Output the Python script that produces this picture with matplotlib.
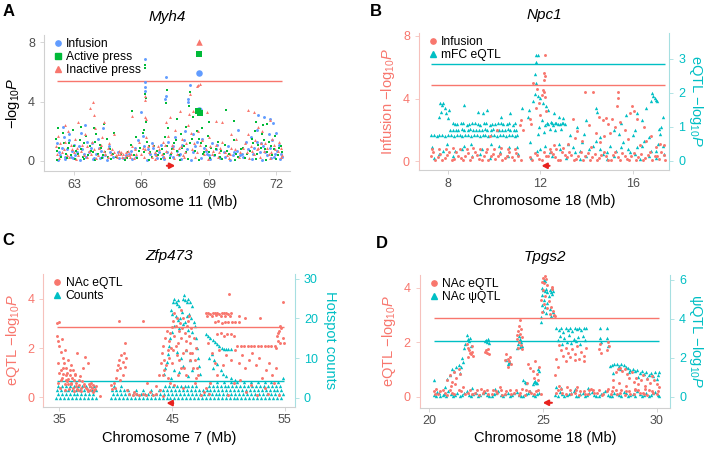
import numpy as np
import matplotlib
matplotlib.use("Agg")
import matplotlib.pyplot as plt
from matplotlib.lines import Line2D

plt.rcParams['font.family'] = ['Liberation Sans', 'DejaVu Sans']
plt.rcParams['mathtext.fontset'] = 'custom'
plt.rcParams['mathtext.rm'] = 'Liberation Sans'
plt.rcParams['mathtext.it'] = 'Liberation Sans:italic'

RED = '#F8766D'
GREEN = '#00BA38'
BLUE = '#619CFF'
CYAN = '#00BFC4'
GRAY_TXT = '#4d4d4d'
SPINE = '#d0d0d0'

# ---------------- panel A : Myh4, chr 11 ----------------
a_infusion = [(66.16,6.88),(66.17,5.36),(66.15,4.98),(66.14,4.72),(67.10,5.68),(67.08,4.38),(67.05,4.20),
    (68.18,5.12),(68.08,4.18),(68.05,3.95),(68.62,3.40),(71.20,3.10),(71.45,2.95),(71.70,2.85),(71.85,2.55),
    (66.00,3.30),(63.50,2.40),(62.50,2.30),(70.30,2.10),(62.80,1.80),(64.30,2.20),(72.00,1.90),
    (62.25,1.2),(62.40,0.4),(62.55,1.6),(62.70,0.8),(62.85,0.3),(63.00,1.1),(63.15,0.6),(63.30,1.9),(63.45,0.5),
    (63.60,1.3),(63.75,0.9),(63.90,0.2),(64.05,1.5),(64.20,0.7),(64.40,0.4),(64.55,1.0),(64.75,0.3),(64.95,0.6),
    (65.20,0.2),(65.45,0.5),(65.70,0.9),(65.85,1.4),(66.05,1.7),(66.30,0.8),(66.45,1.2),(66.60,0.5),(66.80,0.6),
    (66.95,0.3),(67.20,1.3),(67.35,0.9),(67.50,1.6),(67.65,0.4),(67.80,1.1),(67.95,2.0),(68.30,1.8),(68.40,1.0),
    (68.70,1.5),(68.85,0.7),(69.00,0.4),(69.15,1.2),(69.30,0.8),(69.45,0.3),(69.65,0.6),(69.85,1.0),(70.05,0.4),
    (70.25,0.7),(70.45,0.5),(70.65,1.3),(70.85,1.6),(71.00,0.9),(71.15,2.1),(71.30,1.2),(71.50,0.6),(71.65,1.8),
    (71.80,1.4),(71.95,0.5),(72.10,1.1),(72.25,0.3),
    (62.30,0.10),(62.60,0.15),(62.95,0.20),(63.25,0.10),(63.55,0.25),(63.85,0.12),(64.15,0.18),(64.45,0.10),
    (65.00,0.20),(65.60,0.15),(66.25,0.10),(66.70,0.22),(67.00,0.12),(67.40,0.30),(67.75,0.15),(68.20,0.10),
    (68.65,0.20),(69.05,0.12),(69.50,0.18),(69.95,0.10),(70.50,0.25),(70.90,0.15),(71.35,0.10),(71.75,0.20),
    (72.15,0.12),
    (62.32,0.6),(62.47,0.9),(62.62,0.3),(62.77,1.4),(62.92,0.7),(63.07,0.4),(63.22,1.0),(63.37,0.8),(63.52,0.3),
    (63.67,0.6),(63.82,1.2),(63.97,0.5),(64.12,0.9),(64.27,0.3),(64.62,0.6),(65.32,0.4),(65.52,0.7),(65.77,0.3),
    (66.12,1.0),(66.37,0.5),(66.52,0.9),(66.87,1.1),(67.12,0.6),(67.27,0.4),(67.42,1.0),(67.57,0.7),(67.72,0.5),
    (67.87,1.4),(68.02,0.8),(68.27,0.6),(68.47,1.3),(68.77,0.9),(68.92,0.5),(69.22,0.4),(69.37,1.1),(69.72,0.3),
    (70.12,0.6),(70.37,0.4),(70.72,0.8),(70.97,0.5),(71.12,1.3),(71.27,0.6),(71.42,1.0),(71.57,0.4),(71.72,0.9),
    (71.87,0.3),(72.02,0.7),(72.20,0.5)]
a_active = [(66.16,6.45),(66.16,6.28),(66.18,4.50),(66.20,4.25),(66.19,2.60),(67.12,4.80),(67.08,3.90),
    (68.14,4.65),(68.10,3.70),(69.75,3.45),(70.10,2.70),(71.10,2.60),(71.40,2.40),(65.60,3.35),(63.90,2.20),
    (64.35,2.50),(62.30,2.20),(63.30,2.30),(69.00,2.60),(67.60,2.80),(66.10,2.10),(68.30,3.00),(68.70,2.20),
    (71.60,2.50),(64.80,1.90),
    (62.20,1.5),(62.35,0.9),(62.50,1.9),(62.65,0.5),(62.80,1.2),(62.95,2.1),(63.10,0.7),(63.25,1.4),(63.40,0.3),
    (63.55,1.7),(63.70,1.0),(63.85,0.6),(64.00,1.8),(64.15,1.1),(64.30,0.4),(64.45,1.5),(64.60,0.8),(64.85,0.3),
    (65.10,0.5),(65.35,0.2),(65.55,1.1),(65.75,1.6),(65.90,0.7),(66.05,1.9),(66.25,1.3),(66.40,0.6),(66.55,1.0),
    (66.75,0.4),(66.90,0.8),(67.05,1.6),(67.20,2.2),(67.30,0.5),(67.45,1.2),(67.60,0.7),(67.75,1.8),(67.90,1.0),
    (68.00,2.3),(68.25,1.5),(68.45,2.0),(68.65,1.2),(68.80,0.6),(68.95,1.7),(69.10,0.9),(69.25,0.4),(69.40,1.3),
    (69.55,0.7),(69.70,1.1),(69.90,0.5),(70.10,1.4),(70.30,0.3),(70.50,0.9),(70.70,0.5),(70.90,1.5),(71.05,2.0),
    (71.20,1.1),(71.35,1.8),(71.50,0.8),(71.65,1.3),(71.80,0.4),(71.95,1.7),(72.10,0.9),(72.25,0.6),
    (62.25,0.10),(62.70,0.20),(63.05,0.12),(63.45,0.15),(63.95,0.10),(64.25,0.22),(64.65,0.12),(65.25,0.10),
    (65.80,0.18),(66.35,0.10),(66.85,0.15),(67.25,0.20),(67.70,0.10),(68.05,0.14),(68.55,0.10),(69.05,0.20),
    (69.60,0.12),(70.15,0.10),(70.60,0.18),(71.10,0.12),(71.55,0.10),(72.00,0.15),
    (62.27,0.7),(62.42,0.3),(62.57,1.2),(62.72,0.9),(62.87,0.4),(63.02,1.0),(63.17,0.5),(63.32,0.8),(63.47,1.2),
    (63.62,0.4),(63.77,0.7),(63.92,1.3),(64.07,0.5),(64.22,0.9),(64.37,0.6),(64.52,0.3),(64.72,0.5),(65.40,0.6),
    (65.65,0.4),(65.95,0.9),(66.12,0.6),(66.32,1.0),(66.47,0.3),(66.67,0.7),(67.00,0.5),(67.15,1.0),(67.37,0.8),
    (67.52,1.4),(67.67,0.4),(67.82,0.9),(67.97,0.6),(68.17,1.2),(68.37,0.7),(68.57,1.5),(68.72,0.5),(68.87,1.0),
    (69.02,0.6),(69.32,0.8),(69.47,0.3),(69.82,0.7),(70.22,0.5),(70.42,0.8),(70.82,0.7),(70.97,1.2),(71.15,0.5),
    (71.30,0.9),(71.45,1.4),(71.60,0.6),(71.75,1.0),(71.90,0.8),(72.05,0.4),(72.20,1.0)]
a_inactive = [(68.45,5.05),(68.50,5.10),(68.62,5.20),(63.86,3.96),(63.70,3.60),(63.90,3.10),(66.14,2.95),
    (66.20,2.85),(66.15,4.40),(66.18,4.10),(68.15,4.50),(68.12,3.20),(67.70,3.35),(68.90,3.30),(70.75,3.45),
    (71.00,3.30),(69.60,2.60),(71.70,2.75),(65.60,3.05),(64.35,2.60),(63.20,2.60),(62.60,2.40),(67.10,2.60),
    (69.30,2.70),(70.00,1.80),(64.80,1.85),(67.25,3.00),(68.30,3.40),(71.20,2.30),
    (62.20,1.0),(62.30,1.7),(62.45,0.6),(62.60,1.3),(62.75,2.0),(62.90,0.8),(63.05,1.5),(63.20,0.4),(63.35,1.1),
    (63.50,1.8),(63.65,0.7),(63.80,1.3),(63.95,2.2),(64.10,0.9),(64.25,1.6),(64.40,0.5),(64.55,1.2),(64.70,0.8),
    (64.85,0.4),(65.00,0.7),(65.15,0.3),(65.30,0.6),(65.45,0.4),(65.60,1.0),(65.75,0.5),(65.90,1.3),(66.05,0.9),
    (66.20,1.6),(66.35,0.6),(66.50,1.1),(66.65,0.4),(66.80,0.8),(66.95,1.3),(67.10,0.7),(67.20,1.7),(67.35,1.1),
    (67.50,2.1),(67.65,0.9),(67.80,1.5),(67.95,0.6),(68.05,2.4),(68.20,1.9),(68.35,1.2),(68.50,2.0),(68.70,1.4),
    (68.85,0.8),(69.00,1.6),(69.15,0.5),(69.30,1.1),(69.45,0.6),(69.60,1.3),(69.80,0.4),(70.00,0.9),(70.20,1.5),
    (70.40,0.6),(70.60,1.2),(70.75,1.8),(70.90,0.7),(71.05,1.4),(71.20,0.9),(71.35,2.0),(71.50,1.2),(71.65,0.5),
    (71.80,1.5),(71.95,0.8),(72.10,1.3),(72.25,0.4),
    (62.35,0.20),(62.80,0.30),(63.10,0.15),(63.60,0.25),(64.00,0.20),(64.50,0.30),(64.90,0.25),(65.05,0.45),
    (65.20,0.50),(65.35,0.40),(65.50,0.30),(65.65,0.20),(66.10,0.25),(66.60,0.15),(67.00,0.30),(67.45,0.20),
    (67.90,0.30),(68.40,0.25),(68.95,0.15),(69.40,0.30),(69.90,0.20),(70.35,0.30),(70.80,0.20),(71.25,0.30),
    (71.70,0.20),(72.20,0.25),
    (62.25,0.5),(62.40,1.2),(62.55,0.8),(62.70,0.4),(62.85,1.1),(63.00,0.6),(63.15,0.9),(63.30,0.7),(63.45,0.4),
    (63.60,1.0),(63.75,0.5),(63.90,0.8),(64.05,0.4),(64.20,1.1),(64.35,0.7),(64.50,0.9),(64.65,0.5),(64.80,0.6),
    (64.95,0.5),(65.10,0.6),(65.25,0.3),(65.40,0.7),(65.55,0.5),(65.70,0.8),(66.00,0.5),(66.15,0.8),(66.30,1.0),
    (66.45,0.3),(66.60,0.6),(66.75,1.0),(66.90,0.5),(67.05,1.1),(67.30,0.6),(67.40,0.9),(67.60,0.5),(67.75,1.0),
    (67.85,0.4),(68.00,1.2),(68.25,0.8),(68.45,0.6),(68.60,1.1),(68.80,0.5),(69.05,1.0),(69.20,0.7),(69.50,0.9),
    (69.70,0.6),(69.95,0.5),(70.15,0.8),(70.50,0.9),(70.70,0.6),(70.85,1.0),(71.00,0.5),(71.15,0.8),(71.30,1.2),
    (71.45,0.7),(71.60,0.9),(71.75,0.6),(71.90,1.1),(72.05,0.7),(72.22,0.9)]
a_infusion_lead = [(68.56,5.92),(68.55,3.45)]
a_active_lead = [(68.58,7.25),(68.50,3.35),(68.62,3.25)]
a_inactive_lead = [(68.58,8.00)]
a_threshold = 5.42
a_gene = (67.13, 67.50)

# ---------------- panel B : Npc1, chr 18 ----------------
b_infusion = [(12.18,6.75),(12.17,5.65),(12.18,5.45),(12.16,5.20),(11.68,5.00),(11.85,4.60),(12.10,4.55),
    (12.17,4.40),(12.05,4.25),(12.20,4.10),(11.95,3.70),(11.80,3.40),(12.00,2.95),(12.25,3.20),(11.55,2.70),
    (11.60,2.40),(13.93,4.40),(14.29,4.40),(15.35,4.40),(15.36,4.05),(15.34,3.50),(15.96,3.53),(15.90,3.05),
    (11.18,2.62),(11.10,2.30),(11.25,2.00),(10.10,2.00),(9.80,1.60),
    (14.55,2.80),(14.70,2.60),(14.85,2.75),(14.95,2.40),(15.10,2.70),(15.25,2.20),(15.45,2.50),(13.40,2.70),
    (13.60,1.90),(14.10,2.30),(14.40,1.80),(15.65,2.00),(16.05,3.20),(16.20,2.70),(16.50,2.20),(16.80,1.60),
    (17.20,1.10),(17.35,1.00),(14.75,1.60),(15.00,1.80),
    (7.30,0.80),(7.60,0.80),(7.90,0.78),(8.20,0.82),(8.50,0.80),(8.80,0.79),(9.10,0.81),(9.40,0.80),(9.70,0.80),
    (10.00,0.79),(10.30,0.81),(10.60,0.80),(10.90,0.80),(12.40,0.80),(12.70,0.78),(13.00,0.82),
    (7.25,0.30),(7.45,0.10),(7.65,0.45),(7.85,0.20),(8.05,0.55),(8.25,0.15),(8.45,0.35),(8.65,0.05),(8.85,0.50),
    (9.05,0.25),(9.25,0.40),(9.45,0.10),(9.65,0.60),(9.85,0.30),(10.05,0.15),(10.25,0.45),(10.45,0.20),
    (10.65,0.55),(10.85,0.10),(11.05,0.35),(11.55,0.25),(11.75,0.50),(11.95,0.15),(12.15,0.60),(12.35,0.30),
    (12.55,0.45),(12.75,0.10),(12.95,0.55),(13.15,0.25),(13.35,0.40),(13.55,0.15),(13.75,0.60),(13.95,0.30),
    (14.15,0.05),(14.35,0.45),(14.55,0.20),(14.75,0.55),(14.95,0.10),(15.15,0.40),(15.35,0.25),(15.55,0.50),
    (15.75,0.15),(15.95,0.35),(16.15,0.05),(16.35,0.45),(16.55,0.20),(16.75,0.60),(16.95,0.30),(17.15,0.15),
    (17.35,0.40),(13.20,1.10),(13.80,1.30),(14.20,0.90),(14.60,1.20),(15.80,1.40),(16.30,1.00),(16.60,1.30),
    (17.00,0.90),(12.60,1.00),(13.50,1.50),
    (7.35,0.55),(7.55,0.25),(7.75,0.05),(7.95,0.40),(8.15,0.10),(8.35,0.60),(8.55,0.20),(8.75,0.35),(8.95,0.05),
    (9.15,0.55),(9.35,0.15),(9.55,0.30),(9.75,0.05),(9.95,0.45),(10.15,0.30),(10.35,0.05),(10.55,0.35),
    (10.75,0.25),(10.95,0.50),(11.15,0.10),(11.65,0.10),(11.85,0.40),(12.05,0.05),(12.25,0.35),(12.45,0.55),
    (12.65,0.25),(12.85,0.05),(13.05,0.40),(13.25,0.60),(13.45,0.05),(13.65,0.35),(13.85,0.10),(14.05,0.50),
    (14.25,0.25),(14.45,0.05),(14.65,0.40),(14.85,0.30),(15.05,0.05),(15.25,0.55),(15.45,0.10),(15.65,0.35),
    (15.85,0.05),(16.05,0.50),(16.25,0.25),(16.45,0.10),(16.65,0.40),(16.85,0.05),(17.05,0.35),(17.25,0.55),
    (17.40,0.10)]
b_eqtl = [(11.83,3.10),(11.88,3.10),(11.80,2.90),(11.78,2.55),(11.82,2.30),(11.75,1.95),(11.90,1.90),
    (12.00,1.85),(11.70,1.75),(12.10,1.70),(12.25,1.60),(12.35,1.50),(11.50,1.50),(11.45,1.30),(11.20,1.55),
    (12.60,1.40),(12.80,1.30),(13.00,1.25),
    (7.65,1.70),(7.72,1.65),(7.80,1.70),(7.85,1.55),(7.70,1.45),(7.90,1.40),(8.05,1.50),(8.00,1.25),(7.60,1.30),
    (8.20,1.10),(8.70,1.65),(9.30,1.45),(9.50,1.40),(9.70,1.50),(10.70,1.40),(10.30,1.30),
    (8.40,1.08),(8.65,1.10),(8.90,1.08),(9.15,1.10),(9.40,1.06),(9.65,1.10),(9.90,1.08),(10.15,1.10),
    (10.40,1.08),(10.65,1.10),(10.90,1.12),
    (8.10,0.92),(8.35,0.90),(8.60,0.93),(8.85,0.92),(9.10,0.90),(9.35,0.92),(9.60,0.93),(9.85,0.90),
    (10.10,0.92),(10.35,0.91),(10.60,0.93),(10.85,0.92),
    (7.25,0.75),(7.50,0.74),(7.75,0.76),(8.00,0.75),(8.25,0.74),(8.50,0.76),(8.75,0.75),(9.00,0.74),(9.25,0.76),
    (9.50,0.75),(9.75,0.74),(10.00,0.76),(10.25,0.75),(10.50,0.74),(10.75,0.76),(11.00,0.75),
    (12.30,1.10),(12.45,1.15),(12.55,1.05),(12.70,1.12),(12.85,1.08),(13.00,1.10),(12.40,0.95),(12.65,0.90),
    (12.90,0.95),(11.95,1.00),(12.15,0.85),(11.90,0.80),(12.05,1.20),
    (16.85,2.00),(16.90,1.90),(16.95,1.85),(17.00,1.80),(17.05,1.75),(16.80,1.75),(16.60,1.55),(14.40,1.55),
    (14.45,1.45),(16.20,1.40),(15.70,1.35),(17.30,1.30),(16.40,1.20),(15.50,1.10),(17.25,1.00),(13.60,1.00),
    (14.00,1.20),(15.20,0.90),(16.10,0.90),(17.15,0.95),
    (7.30,0.40),(7.60,0.20),(7.95,0.50),(8.30,0.30),(8.70,0.45),(9.05,0.15),(9.45,0.35),(9.85,0.50),(10.25,0.25),
    (10.65,0.40),(11.05,0.20),(11.55,0.55),(11.85,0.30),(12.20,0.45),(12.50,0.15),(12.85,0.35),(13.20,0.50),
    (13.50,0.25),(13.80,0.55),(14.10,0.35),(14.40,0.60),(14.70,0.20),(15.00,0.45),(15.30,0.30),(15.60,0.55),
    (15.90,0.25),(16.20,0.40),(16.50,0.60),(16.80,0.30),(17.10,0.50),(17.35,0.20),(13.30,0.75),(13.90,0.80),
    (14.60,0.70),(15.40,0.80),(16.00,0.75),(16.70,0.70),(17.20,0.80),(13.70,0.05),(14.90,0.05),(16.30,0.05),
    (17.00,0.08),
    (8.30,1.08),(8.55,1.10),(8.80,1.06),(9.05,1.10),(9.30,1.08),(9.55,1.10),(9.80,1.06),(10.05,1.08),(10.30,1.10),
    (10.55,1.08),(10.80,1.06),
    (8.20,0.91),(8.45,0.92),(8.70,0.90),(8.95,0.93),(9.20,0.91),(9.45,0.92),(9.70,0.90),(9.95,0.93),(10.20,0.92),
    (10.45,0.90),(10.70,0.92),(10.95,0.91),
    (7.38,0.75),(7.62,0.76),(7.88,0.74),(8.12,0.75),(8.38,0.76),(8.62,0.74),(8.88,0.75),(9.12,0.76),(9.38,0.74),
    (9.62,0.75),(9.88,0.76),(10.12,0.74),(10.38,0.75),(10.62,0.76),(10.88,0.74),
    (12.35,1.08),(12.50,1.12),(12.62,1.10),(12.78,1.08),(12.92,1.12),(13.05,1.08),(12.20,1.05),
    (7.40,0.10),(7.80,0.30),(8.20,0.15),(8.60,0.35),(9.00,0.50),(9.40,0.20),(9.80,0.10),(10.20,0.45),(10.60,0.15),
    (11.00,0.40),(11.60,0.10),(12.00,0.35),(12.40,0.25),(12.80,0.50),(13.10,0.10),(13.40,0.40),(13.70,0.30),
    (14.00,0.15),(14.30,0.45),(14.60,0.35),(14.90,0.25),(15.20,0.15),(15.50,0.40),(15.80,0.35),(16.10,0.20),
    (16.40,0.45),(16.70,0.15),(17.00,0.30),(17.30,0.45)]
b_threshold_left = 4.85
b_threshold_right = 2.85
b_gene = (12.40, 12.05)

# ---------------- panel C : Zfp473, chr 7 ----------------
c_eqtl = [(34.74,3.01),(34.98,3.05),(40.30,3.08),(42.40,3.08),(50.08,4.18),(54.80,3.85),(45.20,3.40),
    (45.80,3.55),(46.50,3.30),
    (34.80,2.50),(34.90,2.30),(35.00,2.10),(35.10,1.85),(35.20,2.35),(35.30,1.60),(35.40,1.40),(35.50,1.90),
    (35.60,1.20),(35.70,1.00),(35.80,1.50),(35.90,0.90),(36.00,1.30),(36.10,0.80),(36.20,1.10),(36.30,0.70),
    (36.40,0.95),(36.50,0.60),(36.60,1.80),(36.70,0.50),(36.80,0.85),(36.90,0.40),(37.00,0.65),(37.10,1.20),
    (37.20,0.45),(37.30,1.65),(37.40,0.35),(37.50,1.40),(37.60,0.55),(37.70,0.30),(37.80,0.60),(37.90,0.40),
    (38.00,0.50),(38.10,0.30),(38.20,0.45),(34.90,0.60),(35.05,0.40),(35.25,0.80),(35.45,0.30),(35.65,0.65),
    (35.85,0.35),(36.05,0.55),(36.25,0.25),(36.45,0.45),(36.65,0.30),(35.15,1.10),(35.35,0.95),(35.55,0.70),
    (35.75,0.55),
    (34.85,1.40),(35.00,1.00),(35.15,0.70),(35.30,1.20),(35.45,0.55),(35.60,0.90),(35.75,0.75),(35.90,1.10),
    (36.05,0.60),(36.20,0.40),(36.35,0.90),(36.55,0.35),(36.75,0.70),(36.95,0.25),(37.15,0.55),(37.35,0.40),
    (37.55,0.25),(37.75,0.45),(37.95,0.20),(38.15,0.35),
    (39.60,0.50),(39.70,0.35),(39.80,0.60),(39.90,0.40),(40.00,0.80),(40.10,1.10),(40.20,1.30),(40.30,1.50),
    (40.40,1.20),(40.50,1.70),(40.60,1.45),(40.70,1.80),(40.80,1.25),(40.90,1.60),(40.80,2.20),(40.60,0.90),
    (40.40,0.70),(41.00,0.30),(41.20,0.15),(41.50,0.10),
    (41.80,0.12),(42.10,0.08),(42.40,0.15),(42.70,0.10),(43.00,0.20),(43.30,0.10),(43.60,0.15),(43.90,0.30),
    (42.80,0.60),(43.60,0.45),(43.80,0.90),(41.60,0.20),
    (44.00,1.40),(44.10,1.80),(44.20,2.10),(44.30,1.50),(44.40,2.40),(44.50,2.70),(44.60,1.90),(44.70,2.30),
    (44.80,2.60),(44.90,2.00),(45.00,2.85),(45.10,3.10),(45.20,2.50),(45.30,2.90),(45.40,3.20),(45.50,2.20),
    (45.60,2.70),(45.70,3.00),(45.80,2.40),(45.90,2.80),(46.00,3.20),(46.10,2.60),(46.20,1.90),(46.30,2.90),
    (46.40,3.10),(46.50,2.50),(46.60,2.20),(46.70,2.80),(46.80,1.80),(46.90,2.40),(47.00,1.50),(47.10,2.00),
    (47.20,1.20),(47.30,0.90),(44.30,1.10),(44.60,0.80),(45.00,1.40),(45.40,1.70),(45.80,1.20),(46.20,0.90),
    (46.60,1.50),(47.00,0.60),(45.20,0.50),(46.00,0.40),
    (44.15,0.90),(44.45,1.30),(44.75,1.60),(45.05,1.90),(45.35,2.10),(45.65,1.50),(45.95,1.80),(46.25,2.30),
    (46.55,1.80),(46.85,1.20),(47.15,0.80),(45.55,0.90),(46.05,1.20),(44.85,0.60),
    (48.00,3.40),(48.20,3.42),(48.40,3.38),(48.60,3.42),(48.80,3.40),(49.00,3.43),(49.20,3.38),(49.40,3.41),
    (49.60,3.40),(49.80,3.42),(50.00,3.38),(50.20,3.40),(48.10,3.30),(48.50,3.30),(48.90,3.32),(49.30,3.30),
    (49.70,3.30),(50.10,3.30),
    (48.80,3.05),(49.10,3.08),(49.40,3.03),(49.70,3.06),(50.00,3.05),(50.30,3.07),(50.60,3.04),(50.90,3.06),
    (49.00,2.55),(49.30,2.60),(49.60,2.50),(49.90,2.58),(50.20,2.55),(50.50,2.50),
    (50.80,2.09),(51.10,2.10),(51.40,2.08),(51.70,2.10),(52.00,2.09),(52.30,2.10),(52.60,2.08),(52.90,2.10),
    (53.20,2.09),(53.50,2.10),(53.80,2.08),(54.10,2.10),
    (54.30,2.50),(54.40,2.30),(54.50,2.70),(54.60,2.20),(54.70,2.80),(54.80,2.40),(54.60,2.90),(54.40,2.60),
    (54.20,2.00),(54.90,2.20),
    (48.20,2.20),(48.50,1.80),(48.80,1.40),(49.20,1.90),(49.50,1.30),(49.80,1.70),(50.20,1.50),(50.60,1.90),
    (50.90,1.40),(51.20,1.70),(51.50,1.20),(51.80,1.50),(52.10,1.80),(52.40,1.30),(52.70,1.60),(53.00,0.80),
    (53.30,1.10),(53.60,1.40),(53.90,0.90),(54.20,1.20),(48.00,0.40),(48.40,0.60),(49.00,0.90),(50.50,0.60),
    (51.00,0.70),(52.00,0.50),(53.20,0.40),(54.00,0.60),(51.50,3.20),(52.80,3.20),(50.90,3.30),
    (38.60,0.05),(44.20,0.05),(47.60,0.10),(47.80,0.20),(48.30,0.15),(50.00,0.10),(51.60,0.20),(52.50,0.10),
    (53.50,0.15),(54.50,0.10)]
c_counts = [(45.10,24.0),(45.20,25.0),(45.30,24.2),(45.40,23.5),(45.50,24.5),(45.60,23.0),(45.95,25.0),
    (46.05,25.8),(46.15,24.5),(46.30,24.0),(46.45,25.0),(46.60,24.2),(46.75,23.0),
    (44.90,22.0),(45.00,21.0),(45.30,20.5),(45.50,19.5),(45.70,20.0),(45.90,21.5),(46.10,19.0),(46.30,20.5),
    (46.50,21.0),(46.70,20.0),(46.90,19.0),(47.00,18.0),(45.20,18.0),(45.60,17.5),(46.00,18.5),(46.40,17.0),
    (46.80,16.5),(45.00,16.5),(44.80,15.0),(44.70,13.0),(44.60,11.0),(44.50,9.0),(44.40,7.5),(44.30,6.0),
    (47.10,15.0),(47.20,12.5),(47.30,10.0),(47.40,8.0),(47.50,6.0),(45.40,11.5),(45.80,10.0),(46.20,12.0),
    (46.60,9.5),(46.00,8.0),(45.60,6.5),(46.40,5.5),(45.20,7.0),(44.90,5.0),(46.80,7.0),
    (48.00,16.0),(48.20,15.5),(48.40,15.0),(48.60,14.5),(48.80,14.0),(49.00,13.5),(49.20,13.0),(49.40,12.5),
    (49.60,12.2),(49.80,12.2),(50.00,12.2),(50.20,12.2),
    (48.50,11.0),(48.30,10.0),(48.70,9.5),(49.00,8.5),(49.30,7.0),(48.60,7.5),(49.50,6.0),(49.80,5.5),
    (50.20,5.0),(50.60,4.5),
    (34.70,0),(35.05,0),(35.40,0),(35.75,0),(36.10,0),(36.45,0),(36.80,0),(37.15,0),(37.50,0),(37.85,0),(38.20,0),
    (39.60,0),(39.95,0),(40.30,0),(40.65,0),(41.00,0),(41.35,0),(41.70,0),(42.05,0),(42.40,0),(42.75,0),
    (43.10,0),(43.45,0),(43.80,0),(44.15,0),(44.50,0),(44.85,0),(45.20,0),(45.55,0),(45.90,0),(46.25,0),
    (46.60,0),(46.95,0),(47.30,0),(47.65,0),(48.00,0),(48.35,0),(48.70,0),(49.05,0),(49.40,0),(49.75,0),
    (50.10,0),(50.45,0),(50.80,0),(51.15,0),(51.50,0),(51.85,0),(52.20,0),(52.55,0),(52.90,0),(53.25,0),
    (53.60,0),(53.95,0),(54.30,0),(54.65,0),
    (34.85,1),(35.20,1),(35.55,1),(35.90,1),(36.25,1),(36.60,1),(36.95,1),(37.30,1),(37.65,1),(38.00,1),
    (39.75,1),(40.10,1),(40.45,1),(40.80,1),(41.15,1),(41.50,1),(41.85,1),(42.20,1),(42.55,1),(42.90,1),
    (43.25,1),(43.60,1),(43.95,1),(44.30,1),(44.65,1),(45.00,1),(45.35,1),(45.70,1),(46.05,1),(46.40,1),
    (46.75,1),(47.10,1),(47.45,1),(47.80,1),(48.15,1),(48.50,1),(48.85,1),(49.20,1),(49.55,1),(49.90,1),
    (50.25,1),(50.60,1),(50.95,1),(51.30,1),(51.65,1),(52.00,1),(52.35,1),(52.70,1),(53.05,1),(53.40,1),
    (53.75,1),(54.10,1),(54.45,1),(54.80,1),
    (34.75,2),(35.10,2),(35.45,2),(35.80,2),(36.15,2),(36.50,2),(36.85,2),(37.20,2),(37.55,2),(37.90,2),
    (38.25,2),(39.65,2),(40.00,2),(40.35,2),(40.70,2),(41.05,2),(41.75,2),(42.45,2),(43.15,2),(43.85,2),
    (44.20,2),(44.55,2),(44.90,2),(45.25,2),(45.60,2),(45.95,2),(46.30,2),(46.65,2),(47.00,2),(47.35,2),
    (47.70,2),(48.05,2),(48.40,2),(48.75,2),(49.10,2),(49.45,2),(49.80,2),(50.15,2),(50.50,2),(50.85,2),
    (51.20,2),(51.55,2),(51.90,2),(52.25,2),(52.60,2),(52.95,2),(53.30,2),(53.65,2),(54.00,2),(54.35,2),
    (54.70,2),
    (34.90,3),(35.25,3),(35.60,3),(35.95,3),(36.30,3),(36.65,3),(37.00,3),(37.35,3),(37.70,3),(38.05,3),
    (39.80,3),(40.50,3),(44.35,3),(44.70,3),(45.05,3),(45.40,3),(45.75,3),(46.10,3),(46.45,3),(46.80,3),
    (47.15,3),(48.25,3),(48.60,3),(48.95,3),(49.30,3),(49.65,3),(50.00,3),(50.35,3),(50.70,3),(51.05,3),
    (51.40,3),(51.75,3),(52.10,3),(52.45,3),(52.80,3),(53.15,3),(53.50,3),(53.85,3),(54.20,3),(54.55,3),
    (48.40,4),(49.00,4),(49.60,4),(50.20,4),(50.80,4),(51.40,4),(52.00,4),(52.60,4),(53.20,4),(53.80,4),
    (54.40,4),(54.80,5)]
c_threshold_left = 2.87
c_threshold_right = 4.2
c_gene = (45.10, 44.50)

# ---------------- panel D : Tpgs2, chr 18 ----------------
d_eqtl = [(25.10,4.44),(25.02,4.35),(25.15,4.30),(24.95,4.20),(25.05,4.17),(25.20,4.10),(25.39,4.04),
    (25.40,3.95),(25.00,3.90),(25.10,3.70),(24.92,3.55),(25.25,3.50),(25.35,3.30),(25.45,3.15),(25.05,3.40),
    (25.18,3.25),(25.30,3.05),(24.95,3.10),(25.50,3.00),(25.52,2.95),
    (24.00,2.82),(23.95,2.60),(24.05,2.50),(23.90,2.40),(24.00,2.30),(24.08,2.20),(23.85,2.10),(23.95,2.00),
    (24.05,1.90),(23.92,1.80),(24.10,1.75),(23.88,2.25),
    (21.65,1.95),(21.70,1.80),(21.75,1.70),(21.80,1.60),(21.85,1.55),(21.90,1.65),(21.95,1.50),(21.72,1.45),
    (21.88,1.85),(22.50,1.70),(22.55,1.60),(22.60,1.75),(22.65,1.55),(22.45,1.65),
    (23.40,1.55),(23.45,1.40),(23.50,1.30),(23.55,1.45),(23.60,1.20),(23.48,1.10),(23.35,1.35),
    (24.35,1.20),(24.45,1.05),(24.55,0.95),(24.65,1.30),(24.75,0.85),(24.85,1.10),(24.60,0.70),(24.80,0.60),
    (24.30,0.50),
    (25.60,1.40),(25.70,1.90),(25.80,1.70),(25.90,1.50),(26.00,1.80),(26.10,1.60),(26.20,1.45),(26.30,1.75),
    (26.40,1.55),(26.50,1.85),(26.60,1.40),(26.70,1.65),(26.80,1.50),(26.90,1.80),(26.00,1.30),(26.40,1.35),
    (26.80,1.30),(25.65,1.10),(25.55,0.80),
    (27.45,1.75),(27.50,1.95),(27.55,1.60),(27.85,2.00),(27.90,1.85),(27.80,1.70),
    (28.10,0.60),(28.20,0.90),(28.30,1.00),(28.40,1.05),(28.50,0.95),(28.60,1.00),(28.70,0.85),(28.80,0.70),
    (28.90,0.90),(29.00,0.55),(29.10,0.70),(29.20,0.45),(29.30,0.60),(29.40,0.80),(29.50,0.40),(29.60,0.65),
    (29.70,0.50),(29.80,0.75),(29.90,0.60),(30.00,0.45),(30.10,0.35),(28.35,0.50),(28.65,0.40),(29.05,0.30),
    (20.80,0.60),(20.90,0.80),(21.00,0.55),(21.10,0.90),(21.20,0.70),(21.30,1.00),(21.35,0.85),(20.95,0.40),
    (21.15,0.45),
    (20.20,0.20),(20.40,0.10),(20.60,0.25),(20.80,0.05),(21.00,0.15),(21.40,0.20),(21.60,0.10),(21.80,0.25),
    (22.00,0.15),(22.20,0.05),(22.40,0.20),(22.60,0.10),(22.80,0.25),(23.00,0.15),(23.20,0.05),(23.40,0.20),
    (23.60,0.10),(23.80,0.25),(24.00,0.15),(24.20,0.05),(24.40,0.20),(24.60,0.10),(24.80,0.25),(25.60,0.15),
    (25.80,0.30),(26.00,0.10),(26.20,0.25),(26.40,0.15),(26.60,0.05),(26.80,0.20),(27.00,0.10),(27.20,0.25),
    (27.40,0.15),(27.60,0.05),(27.80,0.20),(28.00,0.10),(28.20,0.25),(28.40,0.15),(28.60,0.05),(28.80,0.20),
    (29.00,0.10),(29.20,0.25),(29.40,0.15),(29.60,0.05),(29.80,0.20),(30.00,0.10),(20.30,0.30),(21.50,0.35),
    (22.30,0.30),(23.10,0.35),(24.10,0.30),(25.70,0.40),(26.50,0.35),(27.10,0.30),(28.10,0.35),(29.50,0.30),
    (20.25,0.10),(20.50,0.20),(20.70,0.15),(20.90,0.25),(21.10,0.10),(21.30,0.25),(21.70,0.15),(21.90,0.10),
    (22.10,0.25),(22.35,0.15),(22.55,0.25),(22.75,0.10),(22.95,0.20),(23.15,0.25),(23.35,0.10),(23.55,0.25),
    (23.75,0.15),(23.95,0.05),(24.25,0.25),(24.50,0.15),(24.70,0.20),(24.90,0.10),(25.65,0.25),(25.85,0.15),
    (26.05,0.35),(26.25,0.10),(26.45,0.25),(26.65,0.20),(26.85,0.10),(27.05,0.25),(27.25,0.15),(27.45,0.25),
    (27.65,0.10),(27.85,0.30),(28.05,0.20),(28.25,0.10),(28.45,0.25),(28.65,0.20),(28.85,0.10),(29.05,0.25),
    (29.25,0.15),(29.45,0.10),(29.65,0.25),(29.85,0.15),(30.05,0.20)]
d_psi = [(25.05,6.00),(25.10,5.95),(24.95,5.60),(25.00,5.50),(25.08,5.45),(25.15,5.55),(25.20,5.40),
    (25.30,5.50),(25.40,5.60),(25.45,5.45),(25.35,5.35),(24.98,5.20),(25.25,5.15),(25.42,5.25),(25.05,4.95),
    (24.95,4.70),(25.10,4.60),(25.20,4.80),(25.00,4.40),(25.15,4.30),(25.30,4.50),(25.45,4.35),(25.50,4.20),
    (24.92,4.10),(24.90,3.85),(25.35,4.15),
    (25.60,3.55),(25.70,3.40),(25.80,3.50),(25.90,3.30),(26.00,3.55),(26.10,3.40),(26.20,3.50),(26.30,3.35),
    (26.40,3.55),(26.50,3.45),(26.60,3.55),(26.70,3.40),(26.80,3.55),(26.90,3.50),(25.75,3.10),(25.95,3.00),
    (26.15,3.15),(26.35,2.95),(26.55,3.05),(26.75,3.10),(25.65,2.90),(26.05,2.80),(26.45,2.85),(26.85,2.90),
    (26.25,2.75),(25.85,2.70),(26.65,2.70),
    (27.50,3.55),(27.80,3.55),(27.50,3.00),(27.80,3.00),(27.55,2.80),(27.85,2.60),
    (21.65,3.15),(21.70,2.95),(21.75,2.85),(21.60,2.70),(21.80,3.00),(21.55,2.50),(21.85,2.60),
    (22.50,2.90),(22.55,2.80),(22.60,2.95),(22.65,2.75),(22.45,2.85),
    (23.95,3.10),(24.00,2.95),(24.05,2.80),(23.90,2.70),(24.08,2.60),(23.85,2.50),(24.00,2.55),
    (23.40,1.90),(23.50,1.80),(23.55,1.75),(23.45,1.65),
    (21.00,1.40),(21.10,1.30),(21.20,1.50),(21.30,1.60),(21.40,1.50),(21.50,1.80),(21.45,2.00),(21.35,1.20),
    (20.90,1.10),(20.80,0.90),(20.70,0.50),(20.20,0.85),
    (24.15,0.83),(24.20,0.75),(24.25,0.70),(24.60,0.75),(24.70,0.69),(24.65,0.80),(24.75,0.72),(24.55,0.65),
    (24.80,1.40),(24.85,1.30),
    (27.95,1.55),(28.05,1.60),(28.15,1.70),(28.25,1.65),(28.35,1.55),(28.45,1.70),(28.55,1.60),(28.65,1.50),
    (28.75,1.45),(28.85,1.35),(28.95,1.40),(29.05,1.30),(29.15,1.35),(29.25,1.20),(29.35,1.30),(29.45,1.15),
    (29.55,1.25),(29.65,1.10),(29.75,1.20),(29.85,1.05),(29.95,1.25),(30.05,1.10),(30.10,1.25),(28.40,1.40),
    (28.80,1.25),(29.20,1.00),(29.60,0.95),(30.00,0.90),(28.10,1.20),
    (20.20,0.10),(20.35,0.25),(20.50,0.05),(20.65,0.15),(20.85,0.30),(21.05,0.05),(21.25,0.20),(21.45,0.10),
    (21.65,0.30),(21.85,0.05),(22.05,0.20),(22.25,0.10),(22.45,0.25),(22.65,0.05),(22.85,0.15),(23.05,0.30),
    (23.25,0.05),(23.45,0.20),(23.65,0.10),(23.85,0.25),(24.05,0.05),(24.25,0.15),(24.45,0.30),(24.65,0.05),
    (24.85,0.20),(25.55,0.10),(25.75,0.25),(25.95,0.05),(26.15,0.15),(26.35,0.30),(26.55,0.05),(26.75,0.20),
    (26.95,0.10),(27.15,0.25),(27.35,0.05),(27.55,0.15),(27.75,0.30),(27.95,0.05),(28.15,0.20),(28.35,0.10),
    (28.55,0.25),(28.75,0.05),(28.95,0.15),(29.15,0.30),(29.35,0.05),(29.55,0.20),(29.75,0.10),(29.95,0.25),
    (30.10,0.05),(25.60,0.50),(25.80,0.45),(26.40,0.40),(27.00,0.45),(22.90,0.40),(21.90,0.45),
    (20.30,0.05),(20.45,0.20),(20.60,0.10),(20.75,0.05),(20.95,0.15),(21.15,0.10),(21.35,0.05),(21.55,0.20),
    (21.75,0.10),(21.95,0.15),(22.15,0.05),(22.35,0.20),(22.55,0.10),(22.75,0.05),(22.95,0.20),(23.15,0.10),
    (23.35,0.15),(23.55,0.05),(23.75,0.20),(23.95,0.10),(24.15,0.05),(24.35,0.20),(24.55,0.10),(24.75,0.15),
    (25.65,0.05),(25.85,0.15),(26.05,0.10),(26.25,0.20),(26.45,0.05),(26.65,0.15),(26.85,0.05),(27.05,0.20),
    (27.25,0.10),(27.45,0.05),(27.65,0.20),(27.85,0.10),(28.05,0.05),(28.25,0.15),(28.45,0.05),(28.65,0.20),
    (28.85,0.10),(29.05,0.05),(29.25,0.15),(29.45,0.10),(29.65,0.05),(29.85,0.20),(30.05,0.10)]
d_threshold_left = 2.88
d_threshold_right = 2.88
d_gene = (25.40, 25.00)


def xy(pairs):
    arr = np.array(pairs, dtype=float)
    return arr[:, 0], arr[:, 1]


def base_style(ax, left_color=SPINE, tick_color=GRAY_TXT):
    ax.spines['top'].set_visible(False)
    ax.spines['right'].set_visible(False)
    ax.spines['bottom'].set_color(SPINE)
    ax.spines['left'].set_color(left_color)
    for s in ax.spines.values():
        s.set_linewidth(0.8)
    ax.tick_params(axis='x', colors=SPINE, labelcolor=GRAY_TXT, labelsize=9, length=3, width=0.6, pad=2.5)
    ax.tick_params(axis='y', colors=left_color, labelcolor=tick_color, labelsize=9, length=3, width=0.6)


def threshold(ax, level, pairs, color):
    x, _ = xy(pairs)
    ax.plot([x.min(), x.max()], [level, level], color=color, lw=1.0, solid_capstyle='butt', zorder=1)


def gene_arrow(ax, gene, y):
    ax.annotate('', xy=(gene[1], y), xytext=(gene[0], y), annotation_clip=False,
                arrowprops=dict(arrowstyle='-|>,head_length=0.3,head_width=0.16', color='#e8231f', lw=1.5,
                                shrinkA=0, shrinkB=0))


def legend(ax, handles, labels):
    ax.legend(handles, labels, loc='upper left', bbox_to_anchor=(0.0, 1.04), frameon=False, fontsize=8.7,
              handlelength=0.9, handletextpad=0.25, labelspacing=0.1, borderaxespad=0.3)


def mk(marker, color, size=3.8):
    return Line2D([], [], marker=marker, color=color, linestyle='None', markersize=size)


fig = plt.figure(figsize=(7.09, 4.49), dpi=100)
ylab = r'$-$log$_{10}$$\it{P}$'
S = 4.5

# ---- A ----
ax = fig.add_axes([0.062, 0.619, 0.347, 0.303])
base_style(ax)
threshold(ax, a_threshold, a_infusion, RED)
for pairs, m, c in [(a_infusion, 'o', BLUE), (a_active, 's', GREEN), (a_inactive, '^', RED)]:
    x, y = xy(pairs)
    ax.scatter(x, y, s=S, marker=m, color=c, linewidths=0, zorder=2)
for pairs, m, c in [(a_infusion_lead, 'o', BLUE), (a_active_lead, 's', GREEN), (a_inactive_lead, '^', RED)]:
    x, y = xy(pairs)
    ax.scatter(x, y, s=22, marker=m, color=c, linewidths=0, zorder=3)
ax.set_xlim(61.67, 72.6)
ax.set_ylim(-0.68, 8.5)
ax.set_xticks([63, 66, 69, 72])
ax.set_yticks([0, 4, 8])
gene_arrow(ax, a_gene, -0.32)
ax.set_xlabel('Chromosome 11 (Mb)', fontsize=10.5, labelpad=3)
ax.set_ylabel(ylab, fontsize=10.5, labelpad=4)
ax.set_title('Myh4', fontstyle='italic', fontsize=11, pad=10)
legend(ax, [mk('o', BLUE), mk('s', GREEN), mk('^', RED)], ['Infusion', 'Active press', 'Inactive press'])


def twin_panel(rect, left_pairs, right_pairs, xlim, ylim_l, ylim_r, xt, ytl, ytr,
               thr_l, thr_r, gene, gy, xlabel, ylab_l, ylab_r, title, labels):
    ax = fig.add_axes(rect)
    ax2 = ax.twinx()
    base_style(ax, left_color='#f6c1bc', tick_color=RED)
    ax2.spines['top'].set_visible(False)
    ax2.spines['left'].set_visible(False)
    ax2.spines['bottom'].set_visible(False)
    ax2.spines['right'].set_color('#a6dfe1')
    ax2.spines['right'].set_linewidth(0.8)
    ax2.tick_params(axis='y', colors='#a6dfe1', labelcolor=CYAN, labelsize=9, length=3, width=0.6)
    threshold(ax, thr_l, left_pairs, RED)
    threshold(ax2, thr_r, left_pairs, CYAN)
    x, y = xy(left_pairs)
    ax.scatter(x, y, s=S, marker='o', color=RED, linewidths=0, zorder=2)
    x, y = xy(right_pairs)
    ax2.scatter(x, y, s=S + 1.5, marker='^', color=CYAN, linewidths=0, zorder=2)
    ax.set_xlim(*xlim)
    ax.set_ylim(*ylim_l)
    ax2.set_ylim(*ylim_r)
    ax.set_xticks(xt)
    ax.set_yticks(ytl)
    ax2.set_yticks(ytr)
    gene_arrow(ax, gene, gy)
    ax.set_xlabel(xlabel, fontsize=10.5, labelpad=3)
    ax.set_ylabel(ylab_l, fontsize=10.5, color=RED, labelpad=4)
    ax2.set_ylabel(ylab_r, fontsize=10.5, color=CYAN, rotation=270, labelpad=14)
    ax.set_title(title, fontstyle='italic', fontsize=11, pad=10)
    ax.set_zorder(ax2.get_zorder() + 1)
    ax.patch.set_visible(False)
    legend(ax, [mk('o', RED), mk('^', CYAN)], labels)
    return ax, ax2


twin_panel([0.591, 0.621, 0.353, 0.306], b_infusion, b_eqtl, (6.74, 17.59), (-0.58, 8.2),
           (-0.27, 3.76), [8, 12, 16], [0, 4, 8], [0, 1, 2, 3], b_threshold_left, b_threshold_right,
           b_gene, -0.3, 'Chromosome 18 (Mb)', 'Infusion ' + ylab, 'eQTL ' + ylab, 'Npc1',
           ['Infusion', 'mFC eQTL'])

twin_panel([0.061, 0.094, 0.355, 0.296], c_eqtl, c_counts, (33.56, 55.9), (-0.38, 5.0),
           (-2.27, 31.2), [35, 45, 55], [0, 2, 4], [0, 10, 20, 30], c_threshold_left, c_threshold_right,
           c_gene, -0.23, 'Chromosome 7 (Mb)', 'eQTL ' + ylab, 'Hotspot counts', 'Zfp473',
           ['NAc eQTL', 'Counts'])

twin_panel([0.592, 0.092, 0.353, 0.296], d_eqtl, d_psi, (19.59, 30.59), (-0.4, 4.47),
           (-0.57, 6.26), [20, 25, 30], [0, 2, 4], [0, 2, 4, 6], d_threshold_left, d_threshold_right,
           d_gene, -0.22, 'Chromosome 18 (Mb)', 'eQTL ' + ylab, '\u03c8QTL ' + ylab, 'Tpgs2',
           ['NAc eQTL', 'NAc \u03c8QTL'])

for lx, ly, lt in [(0.004, 0.99, 'A'), (0.522, 0.99, 'B'), (0.004, 0.482, 'C'), (0.530, 0.475, 'D')]:
    fig.text(lx, ly, lt, fontsize=12, fontweight='bold', va='top', ha='left')

fig.savefig('out.png', dpi=100)
